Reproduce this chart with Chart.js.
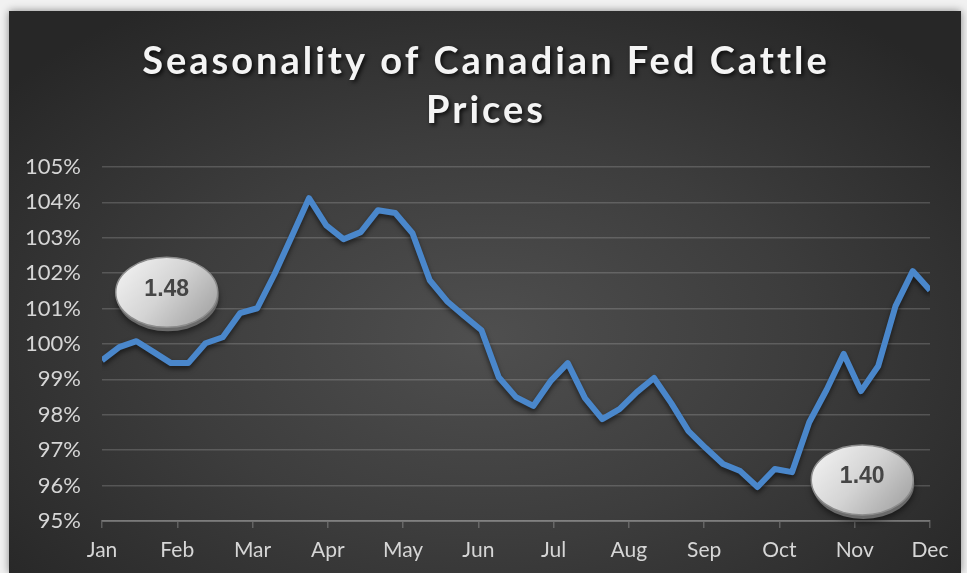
<!DOCTYPE html>
<html lang="en">
<head>
<meta charset="UTF-8">
<title>Seasonality of Canadian Fed Cattle Prices</title>
<script src="https://cdn.jsdelivr.net/npm/chart.js@4.4.1/dist/chart.umd.min.js"></script>
<style>
    html, body {
        margin: 0;
        padding: 0;
        background: #f1f1f1;
        overflow: hidden;
    }
    #panel {
        position: absolute;
        left: 9px;
        top: 11px;
        width: 952px;
        height: 562px;
        background: radial-gradient(ellipse 65% 70% at 50% 58%, #4f4f4f 0%, #3d3d3d 50%, #272727 100%);
        box-shadow: 0 0 8px rgba(0, 0, 0, 0.45);
    }
    canvas { display: block; }
</style>
</head>
<body>
<div id="panel"><canvas id="chart" width="952" height="562"></canvas></div>

<script>
    const months = ['Jan', 'Feb', 'Mar', 'Apr', 'May', 'Jun', 'Jul', 'Aug', 'Sep', 'Oct', 'Nov', 'Dec'];
    // seasonal index, % of annual average (weekly, Jan -> Dec)
    const seasonalIndex = [99.54, 99.91, 100.08, 99.77, 99.46, 99.46, 100.02, 100.19, 100.87, 101.01,
                           101.97, 103.04, 104.12, 103.35, 102.96, 103.16, 103.78, 103.70, 103.13, 101.80,
                           101.21, 100.79, 100.39, 99.06, 98.50, 98.25, 98.95, 99.46, 98.47, 97.88,
                           98.16, 98.64, 99.04, 98.33, 97.54, 97.06, 96.61, 96.41, 95.96, 96.47,
                           96.38, 97.79, 98.70, 99.72, 98.67, 99.38, 101.07, 102.06, 101.52];
    const yTicks = [95, 96, 97, 98, 99, 100, 101, 102, 103, 104, 105];
    const titleLines = ['Seasonality of Canadian Fed Cattle', 'Prices'];
    const callouts = [
        { text: '1.48', month: 0.86, value: 101.46 },
        { text: '1.40', month: 10.1, value: 96.16 }
    ];

    const points = seasonalIndex.map((v, i) => ({ x: i * (months.length - 1) / (seasonalIndex.length - 1), y: v }));

    const gridColor = 'rgba(255,255,255,0.17)';
    const labelColor = '#d6d6d6';

    const titlePlugin = {
        id: 'bigTitle',
        afterDraw(chart) {
            const ctx = chart.ctx;
            ctx.save();
            ctx.font = 'bold 38px Lato';
            ctx.letterSpacing = '3px';
            ctx.fillStyle = '#f4f4f4';
            ctx.textAlign = 'center';
            ctx.textBaseline = 'alphabetic';
            ctx.shadowColor = 'rgba(0,0,0,0.8)';
            ctx.shadowBlur = 4;
            ctx.shadowOffsetX = 2;
            ctx.shadowOffsetY = 2;
            ctx.fillText(titleLines[0], chart.width / 2 + 1, 63);
            ctx.fillText(titleLines[1], chart.width / 2 + 1, 112);
            ctx.restore();
        }
    };

    const lineShadow = {
        id: 'lineShadow',
        beforeDatasetDraw(chart) {
            const ctx = chart.ctx;
            ctx.save();
            ctx.shadowColor = 'rgba(0,0,0,0.55)';
            ctx.shadowBlur = 5;
            ctx.shadowOffsetY = 3;
        },
        afterDatasetDraw(chart) {
            chart.ctx.restore();
        }
    };

    const calloutPlugin = {
        id: 'callouts',
        afterDatasetsDraw(chart) {
            const ctx = chart.ctx;
            const xs = chart.scales.x, ys = chart.scales.y;
            callouts.forEach(c => {
                const cx = xs.getPixelForValue(c.month);
                const cy = ys.getPixelForValue(c.value);
                const rx = 51, ry = 35;
                ctx.save();
                // shadow / rim
                ctx.shadowColor = 'rgba(0,0,0,0.5)';
                ctx.shadowBlur = 6;
                ctx.shadowOffsetY = 3;
                ctx.beginPath();
                ctx.ellipse(cx + 1, cy + 4, rx, ry, 0, 0, Math.PI * 2);
                ctx.fillStyle = '#6a6a6a';
                ctx.fill();
                ctx.restore();

                ctx.save();
                const g = ctx.createLinearGradient(cx - rx, cy - ry, cx + rx * 0.6, cy + ry);
                g.addColorStop(0, '#f6f6f6');
                g.addColorStop(0.55, '#d4d4d4');
                g.addColorStop(1, '#a9a9a9');
                ctx.beginPath();
                ctx.ellipse(cx, cy, rx, ry, 0, 0, Math.PI * 2);
                ctx.fillStyle = g;
                ctx.fill();
                ctx.lineWidth = 1.5;
                ctx.strokeStyle = '#8c8c8c';
                ctx.stroke();

                ctx.font = 'bold 23px "Liberation Sans", Arial, sans-serif';
                ctx.fillStyle = '#454545';
                ctx.textAlign = 'center';
                ctx.textBaseline = 'middle';
                ctx.fillText(c.text, cx, cy - 3);
                ctx.restore();
            });
        }
    };

    new Chart(document.getElementById('chart'), {
        type: 'line',
        data: {
            datasets: [{
                data: points,
                borderColor: '#4a87cb',
                borderWidth: 6,
                pointRadius: 0,
                tension: 0,
                borderJoinStyle: 'round'
            }]
        },
        options: {
            responsive: false,
            animation: false,
            layout: { padding: { top: 156, right: 31, bottom: 0, left: 0 } },
            plugins: {
                legend: { display: false },
                tooltip: { enabled: false }
            },
            scales: {
                x: {
                    type: 'linear',
                    min: 0,
                    max: months.length - 1,
                    afterFit(scale) { scale.height = 52; },
                    afterBuildTicks(scale) {
                        scale.ticks = months.map((m, i) => ({ value: i }));
                    },
                    ticks: {
                        color: labelColor,
                        font: { family: 'Lato', size: 21 },
                        padding: 10,
                        maxRotation: 0,
                        autoSkip: false,
                        callback: (v) => months[v]
                    },
                    grid: {
                        drawOnChartArea: false,
                        color: 'rgba(255,255,255,0.22)',
                        lineWidth: 1.5,
                        tickLength: 7
                    },
                    border: { color: 'rgba(255,255,255,0.22)', width: 2 }
                },
                y: {
                    min: yTicks[0],
                    max: yTicks[yTicks.length - 1],
                    afterFit(scale) { scale.width = 93; },
                    afterBuildTicks(scale) {
                        scale.ticks = yTicks.map(v => ({ value: v }));
                    },
                    ticks: {
                        color: labelColor,
                        font: { family: 'Lato', size: 22 },
                        padding: 21,
                        callback: (v) => v + '%'
                    },
                    grid: {
                        color: gridColor,
                        lineWidth: 1.5,
                        drawTicks: false
                    },
                    border: { display: false }
                }
            }
        },
        plugins: [lineShadow, calloutPlugin, titlePlugin]
    });
</script>
</body>
</html>
